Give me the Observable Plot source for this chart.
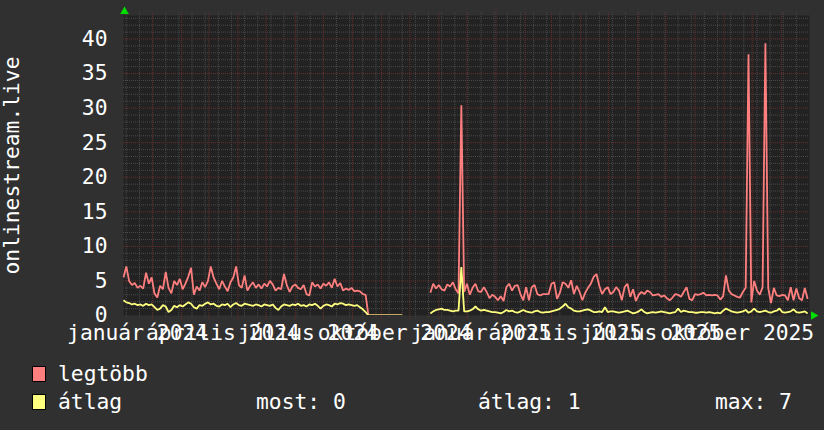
<!DOCTYPE html>
<html><head><meta charset="utf-8">
<script src="https://cdn.jsdelivr.net/npm/d3@7"></script>
<script src="https://cdn.jsdelivr.net/npm/@observablehq/plot@0.6"></script>
<style>
html,body{margin:0;padding:0;background:#303030;}
#chart{width:824px;height:430px;position:relative;overflow:hidden;background:#303030;}
svg{display:block;}
</style></head><body><div id="chart"></div>
<script>
// ---- data ----
const startDate = "2023-12-01";
const stepDays = 3;
const xDomain = ["2023-12-01", "2025-12-01"];
const yMax = 43.4;
const yLabel = "onlinestream.live";

const legtobb = [
  5.5, 7.1, 5.0, 4.4, 4.7, 4.0, 4.3, 3.9, 6.2, 4.6,
  5.5, 3.2, 2.6, 4.3, 3.8, 6.3, 4.0, 3.2, 5.0, 4.4,
  5.3, 3.8, 4.6, 5.6, 6.9, 3.0, 4.2, 3.6, 4.8, 4.1,
  5.0, 7.1, 5.5, 4.6, 3.8, 5.0, 4.2, 3.5, 4.8, 5.5,
  7.1, 4.4, 4.0, 5.8, 3.6, 4.3, 4.8, 4.0, 4.5, 3.9,
  4.6, 4.2, 5.0, 4.5, 3.6, 4.0, 3.8, 6.0, 4.4, 3.4,
  4.2, 4.5, 4.0, 3.8, 4.4, 3.1, 2.9, 4.8, 4.2, 4.5,
  3.9, 4.6, 4.3, 4.8, 4.0, 5.3, 4.2, 4.7, 3.6, 3.9,
  3.7, 4.0, 3.5, 3.6, 3.5, 3.1, 3.0,
  0, 0, 0, 0, 0, 0, 0, 0, 0, 0, 0, 0, 0,
  null, null, null, null, null, null, null, null, null,
  3.3, 4.6, 3.9, 4.4, 3.8, 3.6, 4.5, 4.2, 4.8, 3.8,
  3.2, 30.4, 3.4, 4.6, 3.0, 4.0, 4.6, 3.5, 3.4, 4.1,
  3.4, 2.5, 3.0, 2.7, 2.2, 2.8, 2.1, 4.1, 4.6, 3.6,
  4.3, 4.4, 3.1, 2.2, 4.1, 2.2, 4.1, 4.4, 3.1, 2.9,
  3.1, 3.1, 3.1, 4.6, 4.8, 2.4, 3.3, 4.8, 4.6, 4.0,
  5.1, 3.1, 4.3, 3.4, 2.2, 3.3, 4.0, 4.6, 5.6, 6.0,
  4.3, 3.1, 3.8, 4.1, 3.1, 3.4, 4.1, 3.6, 2.2, 4.1,
  4.6, 2.7, 3.8, 2.1, 3.0, 3.4, 3.1, 3.6, 3.4, 2.9,
  3.0, 3.1, 2.7, 2.9, 2.5, 2.2, 2.6, 3.1, 3.0, 2.7,
  3.4, 4.1, 2.4, 2.2, 3.1, 3.0, 3.1, 3.3, 2.9, 3.0,
  2.9, 3.0, 2.9, 2.3, 2.8, 5.8, 3.6, 3.1, 2.9, 2.7,
  2.6, 3.4, 4.0, 37.8, 1.9, 5.0, 3.6, 3.0, 4.1, 39.4,
  4.0, 1.8, 4.0, 2.9, 2.8, 3.0, 2.9, 2.2, 4.1, 2.2,
  3.9, 2.5, 2.2, 4.0, 2.4
];

const atlag = [
  2.2, 1.9, 1.8, 1.6, 1.7, 1.5, 1.6, 1.4, 1.7, 1.5,
  1.6, 1.2, 0.8, 1.0, 1.5, 1.3, 0.5, 0.8, 1.4, 1.2,
  1.5, 1.3, 1.6, 1.9, 1.7, 1.2, 1.0, 1.5, 1.4, 1.7,
  1.9, 1.6, 1.7, 1.4, 1.3, 1.6, 1.5, 1.7, 1.2, 1.6,
  1.8, 1.5, 1.4, 1.7, 1.6, 1.5, 1.4, 1.6, 1.5, 1.3,
  1.6, 1.5, 1.4, 1.6, 1.1, 0.8, 1.3, 1.6, 1.5, 1.4,
  1.6, 1.5, 1.7, 1.4, 1.5, 1.3, 1.6, 1.5, 1.7, 1.4,
  1.0, 1.4, 1.6, 1.5, 1.3, 1.7, 1.6, 1.8, 1.7, 1.5,
  1.6, 1.5, 1.4, 1.5, 1.2, 0.9, 0.5,
  0, 0, 0, 0, 0, 0, 0, 0, 0, 0, 0, 0, 0,
  null, null, null, null, null, null, null, null, null,
  0.3, 0.6, 0.8, 0.9, 1.0, 0.8, 0.8, 0.7, 0.6, 0.7,
  0.7, 7.0, 0.6, 0.6, 0.7, 0.9, 1.3, 0.9, 0.7, 0.8,
  0.7, 0.6, 0.5, 0.5, 0.4, 0.3, 0.5, 0.8, 0.6, 0.7,
  0.5, 0.4, 0.6, 0.8, 0.6, 0.5, 0.4, 0.6, 0.7, 0.5,
  0.4, 0.5, 0.5, 0.6, 0.7, 0.8, 1.0, 1.3, 1.7, 1.2,
  1.0, 0.7, 0.6, 0.6, 0.7, 0.8, 0.9, 0.7, 0.5, 0.5,
  0.6, 0.5, 1.2, 0.5, 0.6, 0.6, 0.5, 0.4, 0.5, 0.6,
  0.7, 0.5, 0.3, 0.4, 0.6, 0.9, 0.5, 0.3, 0.4, 0.5,
  0.4, 0.5, 0.6, 0.5, 0.4, 0.3, 0.4, 0.5, 1.0, 0.5,
  0.7, 0.6, 0.5, 0.5, 0.4, 0.4, 0.5, 0.5, 0.4, 0.5,
  0.4, 0.3, 0.4, 0.3, 0.7, 1.0, 0.8, 0.6, 0.5, 0.4,
  0.5, 0.6, 0.8, 0.4, 0.6, 1.0, 0.6, 0.5, 0.6, 0.7,
  0.5, 0.4, 0.6, 0.7, 1.0, 0.5, 0.4, 0.5, 0.6, 0.9,
  0.5, 0.4, 0.5, 0.6, 0.3
];

const tickDates = ["2024-01-01","2024-04-01","2024-07-01","2024-10-01","2025-01-01","2025-04-01","2025-07-01","2025-10-01"];
const tickLabels = ["január 2024","április 2024","július 2024","október 2024","január 2025","április 2025","július 2025","október 2025"];
const yTicks = [0, 5, 10, 15, 20, 25, 30, 35, 40];

const seriesNames = ["legtöbb", "átlag"];
const seriesColors = ["#ff7f7f", "#ffff7f"];
const legendStats = ["most: 0", "átlag: 1", "max: 7"];

// ---- build ----
const FONT = "DejaVu Sans Mono";
const FS = 21.3;
const t0 = Date.parse(startDate);
const rows = legtobb.map((v, i) => ({date: new Date(t0 + i * stepDays * 864e5), max: v, avg: atlag[i]}));
const xd = xDomain.map(d => new Date(d));
const labelMap = new Map(tickDates.map((d, i) => [+new Date(d), tickLabels[i]]));

const minorY = d3.range(1, 44).filter(v => v % 5 !== 0);
const majorY = d3.range(5, 44, 5);
const minorX = d3.utcDay.range(new Date("2023-12-04"), xd[1], 14);
const majorX = d3.utcMonth.range(new Date("2024-01-01"), xd[1]);

const plot = Plot.plot({
  width: 824,
  height: 345,
  marginLeft: 123,
  marginRight: 15,
  marginTop: 15,
  marginBottom: 30,
  style: {background: "#303030", color: "#ffffff", fontFamily: FONT, fontSize: FS + "px"},
  x: {type: "utc", domain: xd, label: null},
  y: {domain: [0, yMax], label: null},
  marks: [
    Plot.frame({fill: "#222222", stroke: null}),
    Plot.ruleY(minorY, {stroke: "#4a4a4a", strokeDasharray: "1,1"}),
    Plot.ruleX(minorX, {stroke: "#4a4a4a", strokeDasharray: "1,1", insetTop: -3, insetBottom: -3}),
    Plot.ruleY(majorY, {stroke: "#6a2e2e", strokeDasharray: "1,1"}),
    Plot.ruleX(majorX, {stroke: "#6a2e2e", strokeDasharray: "1,1", insetTop: -3, insetBottom: -4}),
    Plot.line(rows, {x: "date", y: "max", stroke: seriesColors[0], strokeWidth: 1.8, strokeLinejoin: "miter", strokeLinecap: "butt", clip: "frame"}),
    Plot.line(rows, {x: "date", y: "avg", stroke: seriesColors[1], strokeWidth: 1.8, strokeLinejoin: "miter", strokeLinecap: "butt", clip: "frame"}),
    Plot.axisY(yTicks, {tickSize: 0, tickPadding: 16, fill: "#ffffff", fontSize: FS, label: null}),
    Plot.axisX(tickDates.map(d => new Date(d)), {tickSize: 0, tickPadding: 9, dx: -15, fill: "#ffffff", fontSize: FS,
      tickFormat: d => labelMap.get(+d), label: null}),
    Plot.text([yLabel], {frameAnchor: "left", text: d => d, rotate: -90, dx: -111, fill: "#ffffff",
      fontSize: FS, textAnchor: "middle", lineAnchor: "middle"}),
    Plot.dot([0], {x: () => xd[0], y: () => yMax, symbol: "triangle", r: 3.2, fill: "#00dd00", stroke: null, dx: 1, dy: -4}),
    Plot.dot([0], {x: () => xd[1], y: () => 0, symbol: "triangle", r: 3.2, fill: "#00dd00", stroke: null, rotate: 90, dx: 4})
  ]
});
document.getElementById("chart").appendChild(plot);

// ---- legend below the chart ----
const leg = d3.select("#chart").append("svg")
  .attr("width", 824).attr("height", 85)
  .style("font-family", FONT).style("font-size", FS + "px");
const rowsY = [36, 64];
seriesNames.forEach((name, i) => {
  leg.append("rect").attr("x", 32.5).attr("y", rowsY[i] - 14.5).attr("width", 13).attr("height", 15)
    .attr("fill", seriesColors[i]).attr("stroke", "#000").attr("stroke-width", 1);
  leg.append("text").attr("x", 58).attr("y", rowsY[i]).attr("fill", "#fff").text(name);
});
const statX = [256, 478, 715];
legendStats.forEach((s, i) => {
  leg.append("text").attr("x", statX[i]).attr("y", rowsY[1]).attr("fill", "#fff").text(s);
});
</script>
</body></html>
